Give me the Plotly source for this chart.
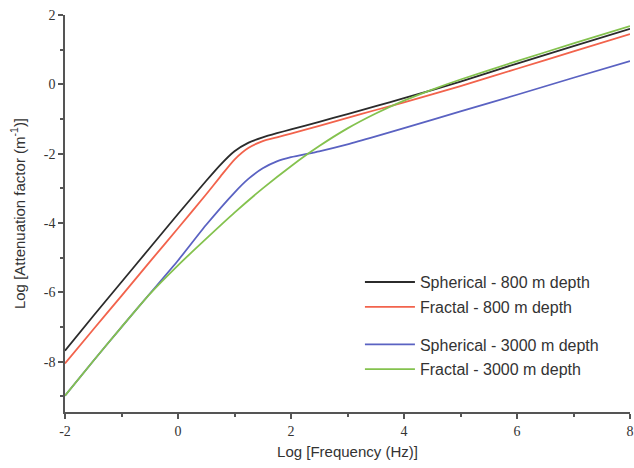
import plotly.graph_objects as go

# Log frequency (Hz) sample positions for each curve
x_sph800 = [-2, -1.5, -1, -0.5, 0, 0.5, 0.75, 1, 1.25, 1.5, 1.75, 2, 2.5, 3, 3.5, 4, 5, 6, 7, 8]
y_sph800 = [-7.68, -6.68, -5.70, -4.72, -3.74, -2.78, -2.32, -1.93, -1.68, -1.53, -1.41, -1.30,
            -1.08, -0.86, -0.63, -0.40, 0.08, 0.60, 1.10, 1.60]

x_fra800 = [-2, -1.5, -1, -0.5, 0, 0.5, 0.75, 1, 1.25, 1.5, 1.75, 2, 2.5, 3, 3.5, 4, 5, 6, 7, 8]
y_fra800 = [-8.05, -7.07, -6.10, -5.12, -4.15, -3.17, -2.66, -2.17, -1.83, -1.64, -1.53, -1.42,
            -1.20, -0.97, -0.74, -0.52, -0.05, 0.45, 0.95, 1.45]

x_sph3000 = [-2, -1.5, -1, -0.5, 0, 0.5, 1, 1.25, 1.5, 1.75, 2, 2.5, 3, 3.5, 4, 5, 6, 7, 8]
y_sph3000 = [-8.98, -7.98, -7.00, -6.04, -5.08, -4.05, -3.12, -2.72, -2.42, -2.22, -2.10,
             -1.93, -1.73, -1.50, -1.26, -0.78, -0.30, 0.19, 0.67]

x_fra3000 = [-2, -1.5, -1, -0.5, 0, 0.5, 1, 1.5, 2, 2.5, 3, 3.5, 4, 4.5, 5, 6, 7, 8]
y_fra3000 = [-8.98, -7.98, -7.00, -6.05, -5.22, -4.45, -3.70, -3.00, -2.36, -1.78, -1.27,
             -0.84, -0.47, -0.15, 0.14, 0.67, 1.18, 1.68]

x_ticks = [-2, 0, 2, 4, 6, 8]
x_ticktext = ["-2", "0", "2", "4", "6", "8"]
y_ticks = [-8, -6, -4, -2, 0, 2]
y_ticktext = ["-8", "-6", "-4", "-2", "0", "2"]

names = ["Spherical - 800 m depth", "Fractal - 800 m depth",
         "Spherical - 3000 m depth", "Fractal - 3000 m depth"]
colors = ["#2b2b2b", "#f2634c", "#5a62c2", "#84c24e"]

fig = go.Figure()
series = [(x_sph800, y_sph800, "legend", "a"), (x_fra800, y_fra800, "legend", "b"),
          (x_sph3000, y_sph3000, "legend2", "c"), (x_fra3000, y_fra3000, "legend2", "d")]
for (xs, ys, lg, grp), name, col in zip(series, names, colors):
    fig.add_trace(go.Scatter(x=xs, y=ys, mode="lines", name=name,
                             line=dict(color=col, width=1.8, shape="spline", smoothing=0.6),
                             legend=lg, legendgroup=grp))

serif = "Liberation Serif"
sans = "Liberation Sans"
axis_common = dict(showline=True, linecolor="#555", linewidth=1.5, showgrid=False,
                   zeroline=False, ticks="outside", ticklen=5, tickwidth=1.5, tickcolor="#555",
                   automargin=False,
                   tickfont=dict(family=serif, size=14, color="#333"),
                   minor=dict(ticks="outside", ticklen=3, tickwidth=1.5, tickcolor="#555", dtick=1))

leg_common = dict(font=dict(family=sans, size=16, color="#333"), bgcolor="rgba(0,0,0,0)",
                  tracegroupgap=1, xanchor="left", yanchor="top", itemwidth=50)

fig.update_layout(
    width=634, height=468,
    margin=dict(l=65, r=4, t=15, b=56),
    paper_bgcolor="white", plot_bgcolor="white",
    xaxis=dict(range=[-2, 8], tickvals=x_ticks, ticktext=x_ticktext,
               title=dict(text="Log [Frequency (Hz)]", font=dict(family=sans, size=15, color="#333"),
                          standoff=9),
               **axis_common),
    yaxis=dict(range=[-9.45, 2], tickvals=y_ticks, ticktext=y_ticktext,
               title=dict(text="Log [Attenuation factor (m<sup>-1</sup>)]",
                          font=dict(family=sans, size=15, color="#333"), standoff=15),
               **axis_common),
    legend=dict(x=0.522, y=0.37, **leg_common),
    legend2=dict(x=0.522, y=0.213, **leg_common),
)

fig.write_html("out.html", config={"displayModeBar": False},
               post_script="document.body.style.margin='0';")
